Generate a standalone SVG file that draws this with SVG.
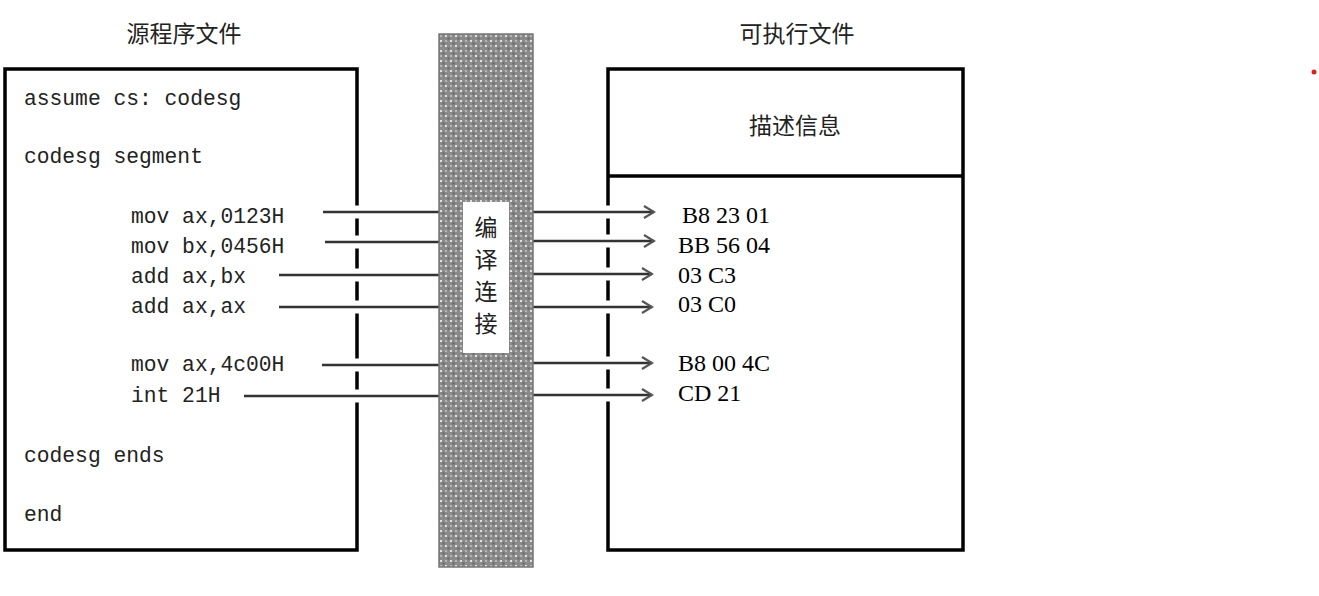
<svg xmlns="http://www.w3.org/2000/svg" width="1319" height="596" viewBox="0 0 1319 596">
<defs>
<style>
.box{fill:#fff;stroke:#000;stroke-width:3.5}
.code{font-family:"Liberation Mono","Courier New",monospace;font-size:21.3px;fill:#222}
.hex{font-family:"Liberation Serif","Times New Roman",serif;font-size:24px;fill:#000}
.cjk{font-family:"Noto Sans CJK SC","Noto Sans CJK JP",sans-serif;font-size:23px;fill:#222}
.conn{stroke:#333;stroke-width:2.5;fill:none}
.gap{stroke:#fff;stroke-width:13}
</style>
<pattern id="hatch" width="10" height="10" patternUnits="userSpaceOnUse">
<rect width="10" height="10" fill="#8a8a8a"/>
<rect x="0" y="0" width="2" height="2" fill="#e0e0e0"/>
<rect x="5" y="5" width="2" height="2" fill="#e0e0e0"/>
<rect x="2.5" y="2.5" width="2" height="2" fill="#666"/>
<rect x="7.5" y="7.5" width="2" height="2" fill="#666"/>
<rect x="5" y="0" width="2" height="2" fill="#b4b4b4"/>
<rect x="0" y="5" width="2" height="2" fill="#b4b4b4"/>
</pattern>
<marker id="arr" markerWidth="14" markerHeight="14" refX="12" refY="7" orient="auto" markerUnits="userSpaceOnUse">
<path d="M2,1 L12,7 L2,13" fill="none" stroke="#555" stroke-width="2.2"/>
</marker>
</defs>
<rect width="1319" height="596" fill="#fff"/>

<g id="title-source">
<text class="cjk" x="184" y="42" text-anchor="middle">源程序文件</text>
</g>
<g id="title-exe">
<text class="cjk" x="797" y="42" text-anchor="middle">可执行文件</text>
</g>

<g id="source-file">
<rect class="box" x="5" y="69" width="352" height="481"/>
<text class="code" x="24" y="105">assume cs: codesg</text>
<text class="code" x="24" y="163">codesg segment</text>
<text class="code" x="131" y="223">mov ax,0123H</text>
<text class="code" x="131" y="253">mov bx,0456H</text>
<text class="code" x="131" y="283">add ax,bx</text>
<text class="code" x="131" y="313">add ax,ax</text>
<text class="code" x="131" y="371">mov ax,4c00H</text>
<text class="code" x="131" y="402">int 21H</text>
<text class="code" x="24" y="462">codesg ends</text>
<text class="code" x="24" y="521">end</text>
</g>

<g id="exe-file">
<rect class="box" x="608" y="69" width="355" height="481"/>
<line x1="608" y1="176" x2="963" y2="176" stroke="#000" stroke-width="3.5"/>
</g>
<g id="desc-info">
<text class="cjk" x="795" y="134" text-anchor="middle">描述信息</text>
</g>
<g id="machine-code">
<text class="hex" x="682" y="223">B8 23 01</text>
<text class="hex" x="678" y="253">BB 56 04</text>
<text class="hex" x="678" y="283">03 C3</text>
<text class="hex" x="678" y="312">03 C0</text>
<text class="hex" x="678" y="371">B8 00 4C</text>
<text class="hex" x="678" y="401">CD 21</text>
</g>

<g id="connectors">
<g class="gap">
<line x1="351" y1="212" x2="365" y2="212"/>
<line x1="351" y1="242" x2="365" y2="242"/>
<line x1="351" y1="275" x2="365" y2="275"/>
<line x1="351" y1="307" x2="365" y2="307"/>
<line x1="351" y1="365" x2="365" y2="365"/>
<line x1="351" y1="396" x2="365" y2="396"/>
<line x1="601" y1="212" x2="615" y2="212"/>
<line x1="601" y1="241" x2="615" y2="241"/>
<line x1="601" y1="274" x2="615" y2="274"/>
<line x1="601" y1="307" x2="615" y2="307"/>
<line x1="601" y1="363" x2="615" y2="363"/>
<line x1="601" y1="395" x2="615" y2="395"/>
</g>
<line class="conn" x1="323" y1="212" x2="440" y2="212"/>
<line class="conn" x1="325" y1="242" x2="440" y2="242"/>
<line class="conn" x1="279" y1="275" x2="440" y2="275"/>
<line class="conn" x1="279" y1="307" x2="440" y2="307"/>
<line class="conn" x1="322" y1="365" x2="440" y2="365"/>
<line class="conn" x1="244" y1="396" x2="440" y2="396"/>
<line class="conn" x1="532" y1="212" x2="654" y2="212" marker-end="url(#arr)"/>
<line class="conn" x1="532" y1="241" x2="654" y2="241" marker-end="url(#arr)"/>
<line class="conn" x1="532" y1="274" x2="652" y2="274" marker-end="url(#arr)"/>
<line class="conn" x1="532" y1="307" x2="652" y2="307" marker-end="url(#arr)"/>
<line class="conn" x1="532" y1="363" x2="652" y2="363" marker-end="url(#arr)"/>
<line class="conn" x1="532" y1="395" x2="652" y2="395" marker-end="url(#arr)"/>
</g>

<g id="compile-link">
<rect x="439" y="34" width="94" height="533" fill="url(#hatch)" stroke="#777" stroke-width="1.5"/>
<rect x="463" y="202" width="46" height="151" fill="#fff"/>
<text class="cjk" x="486" y="236" text-anchor="middle">编</text>
<text class="cjk" x="486" y="268" text-anchor="middle">译</text>
<text class="cjk" x="486" y="300" text-anchor="middle">连</text>
<text class="cjk" x="486" y="332" text-anchor="middle">接</text>
</g>

<circle cx="1314" cy="72" r="2.5" fill="#e02020"/>
</svg>
